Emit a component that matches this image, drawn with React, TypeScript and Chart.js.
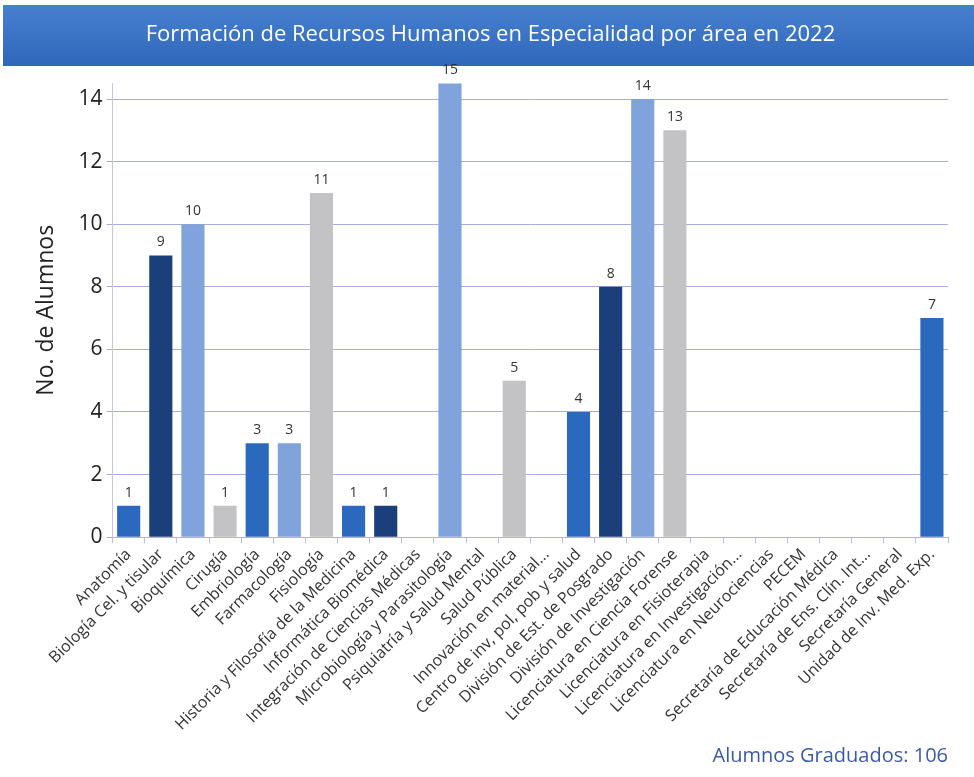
import React, { useEffect, useRef } from "react";
import { Chart, registerables } from "chart.js";

Chart.register(...registerables);

const categories: string[] = [
  "Anatomía",
  "Biología Cel. y tisular",
  "Bioquímica",
  "Cirugía",
  "Embriología",
  "Farmacología",
  "Fisiología",
  "Historia y Filosofía de la Medicina",
  "Informática Biomédica",
  "Integración de Ciencias Médicas",
  "Microbiología y Parasitología",
  "Psiquiatría y Salud Mental",
  "Salud Pública",
  "Innovación en material...",
  "Centro de inv, pol, pob y salud",
  "División de Est. de Posgrado",
  "División de Investigación",
  "Licenciatura en Ciencia Forense",
  "Licenciatura en Fisioterapia",
  "Licenciatura en Investigación...",
  "Licenciatura en Neurociencias",
  "PECEM",
  "Secretaría de Educación Médica",
  "Secretaría de Ens. Clín. Int...",
  "Secretaría General",
  "Unidad de Inv. Med. Exp.",
];

const alumnos: number[] = [1, 9, 10, 1, 3, 3, 11, 1, 1, 0, 15, 0, 5, 0, 4, 8, 14, 13, 0, 0, 0, 0, 0, 0, 0, 7];

const yTicks: number[] = [0, 2, 4, 6, 8, 10, 12, 14];

const titleText = "Formación de Recursos Humanos en Especialidad por área en 2022";
const yTitle = "No. de Alumnos";
const totalText = "Alumnos Graduados: 106";

const BLUE = "#2b69bf";
const NAVY = "#1b3f7a";
const LIGHT = "#7fa3da";
const GRAY = "#c3c3c5";
const barColors: string[] = [
  BLUE, NAVY, LIGHT, GRAY, BLUE, LIGHT, GRAY, BLUE, NAVY, BLUE, LIGHT, NAVY, GRAY,
  BLUE, BLUE, NAVY, LIGHT, GRAY, BLUE, NAVY, LIGHT, GRAY, BLUE, NAVY, LIGHT, BLUE,
];

const FONT = "'Open Sans', 'DejaVu Sans', sans-serif";

const headerBar = {
  id: "headerBar",
  beforeDraw(chart: any) {
    const { ctx, width } = chart;
    ctx.save();
    ctx.fillStyle = "#ffffff";
    ctx.fillRect(0, 0, width, chart.height);
    const g = ctx.createLinearGradient(0, 5, 0, 66);
    g.addColorStop(0, "#4780cf");
    g.addColorStop(1, "#2f68bb");
    ctx.fillStyle = g;
    ctx.fillRect(3, 5, width - 3, 61);
    ctx.restore();
  },
};

const valueLabels = {
  id: "valueLabels",
  afterDatasetsDraw(chart: any) {
    const { ctx, chartArea } = chart;
    const meta = chart.getDatasetMeta(0);
    const data = chart.data.datasets[0].data as number[];
    ctx.save();
    ctx.font = `14px ${FONT}`;
    ctx.fillStyle = "#333333";
    ctx.textAlign = "center";
    ctx.textBaseline = "bottom";
    meta.data.forEach((bar: any, i: number) => {
      const v = data[i];
      if (!v) return;
      const y = Math.max(bar.y, chartArea.top) - 6;
      ctx.fillText(String(v), bar.x, y);
    });
    ctx.restore();
  },
};

export default function App() {
  const ref = useRef<HTMLCanvasElement | null>(null);

  useEffect(() => {
    document.body.style.margin = "0";
    const canvas = ref.current;
    if (!canvas) return;
    const chart = new Chart(canvas, {
      type: "bar",
      data: {
        labels: categories,
        datasets: [
          {
            data: alumnos,
            backgroundColor: barColors,
            barPercentage: 0.72,
            categoryPercentage: 1,
          },
        ],
      },
      options: {
        animation: false,
        responsive: false,
        maintainAspectRatio: false,
        layout: { padding: { left: 33, right: 26, top: 0, bottom: 0 } },
        plugins: {
          legend: { display: false },
          tooltip: { enabled: false },
          title: {
            display: true,
            text: titleText,
            color: "#ffffff",
            font: { family: FONT, size: 22, weight: "normal" },
            padding: { top: 22, bottom: 35 },
          },
          subtitle: {
            display: true,
            text: totalText,
            position: "bottom",
            align: "end",
            color: "#3a5aab",
            font: { family: FONT, size: 20, weight: "normal" },
            padding: { top: 8, bottom: 9 },
          },
        },
        scales: {
          x: {
            offset: true,
            grid: {
              offset: true,
              drawOnChartArea: false,
              drawTicks: true,
              tickLength: 6,
              color: "#b9bde3",
            },
            border: { display: true, color: "#b3b0dc" },
            ticks: {
              minRotation: 45,
              maxRotation: 45,
              autoSkip: false,
              color: "#333333",
              font: { family: FONT, size: 16 },
              padding: 2,
            },
          },
          y: {
            min: 0,
            max: 14.5,
            afterBuildTicks: (scale: any) => {
              scale.ticks = yTicks.map((v) => ({ value: v }));
            },
            grid: { color: "#a7addf", lineWidth: 1, drawTicks: true, tickLength: 6 },
            border: { display: true, color: "#c8c6d8" },
            ticks: {
              color: "#222222",
              font: { family: FONT, size: 21 },
              padding: 4,
            },
            title: {
              display: true,
              text: yTitle,
              color: "#222222",
              font: { family: FONT, size: 23 },
              padding: { top: 0, bottom: 14 },
            },
          },
        },
      },
      plugins: [headerBar, valueLabels],
    });
    return () => chart.destroy();
  }, []);

  return <canvas ref={ref} width={974} height={777} style={{ display: "block" }} />;
}
